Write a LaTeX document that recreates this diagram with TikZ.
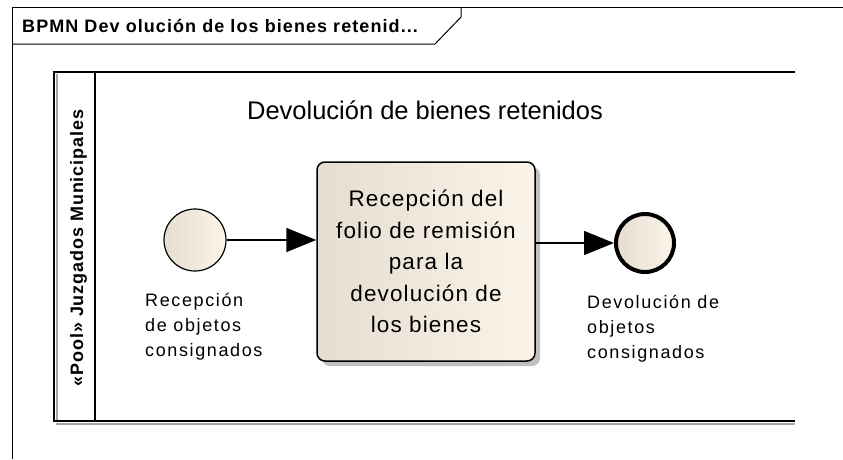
\documentclass[tikz,border=0pt]{standalone}
\usepackage{fontspec}
\setmainfont{Liberation Sans}
\newfontfamily\titlefont[LetterSpace=6]{Liberation Sans}
\newfontfamily\poolfont[LetterSpace=5]{Liberation Sans}
\newfontfamily\taskfont[LetterSpace=5]{Liberation Sans}
\newfontfamily\lblfont[LetterSpace=9]{Liberation Sans}
\usetikzlibrary{positioning,arrows.meta,shadows}

\definecolor{evdark}{RGB}{230,221,209}
\definecolor{evlight}{RGB}{251,244,232}
\definecolor{shadowgray}{RGB}{165,165,165}

\tikzset{
	frameline/.style={line width=1pt},
	poolline/.style={line width=2pt},
	event/.style={circle, draw, inner sep=0pt, left color=evdark, right color=evlight},
	startev/.style={event, line width=1.2pt, minimum size=62pt},
	endev/.style={event, line width=4pt, minimum size=58pt},
	task/.style={rectangle, draw, rounded corners=8pt, line width=1.5pt,
		minimum width=218pt, minimum height=199pt,
		left color=evdark, right color=evlight,
		drop shadow={shadow xshift=5pt, shadow yshift=-5pt, fill=shadowgray, opacity=0.7},
		align=center, font=\taskfont\fontsize{22.5}{31.5}\selectfont},
	flow/.style={-{Triangle[length=30pt,width=24pt]}, line width=1.5pt},
	evlabel/.style={anchor=base west, align=left, inner sep=0pt,
		font=\lblfont\fontsize{18}{25}\selectfont}
}

\begin{document}
\begin{tikzpicture}[x=1pt,y=-1pt]
	\useasboundingbox (0,0) rectangle (843,459);

	% diagram frame and its name tab
	\draw[frameline] (843,7) -- (12,7) -- (12,459);
	\draw[frameline] (12,44) -- (435,44) -- (461,17) -- (461,7);
	\node[anchor=base west, inner sep=0pt,
		  font=\titlefont\bfseries\fontsize{18}{20}\selectfont] 
		  (diagtitle) at (22,32) {BPMN Dev olución de los bienes retenid...};

	% pool
	\draw[shadowgray, line width=1.5pt] (56,424) -- (795,424);
	\draw[shadowgray, line width=1.5pt] (57,74) -- (57,421);
	\draw[poolline] (795,72) -- (54,72) -- (54,421) -- (795,421);
	\draw[poolline] (95,72) -- (95,421);
	\node[rotate=90, anchor=base, inner sep=0pt,
		  font=\poolfont\bfseries\fontsize{18}{20}\selectfont] 
		  (poollbl) at (83,248) {«Pool» Juzgados Municipales};
	\node[anchor=base, inner sep=0pt, font=\fontsize{25.5}{30}\selectfont] 
		  (lanetitle) at (425,119) {Devolución de bienes retenidos};

	% events and task
	\node[startev] (start) at (195,240) {};
	\node[task] (recep) at (426,261.5) 
		  {Recepción del\\folio de remisión\\para la\\devolución de\\los bienes};
	\node[endev] (finish) at (645,243) {};

	\node[evlabel] (startlbl) at (145,356) {Recepción\\de objetos\\consignados};
	\node[evlabel] (finishlbl) at (587,358) {Devolución de\\objetos\\consignados};

	\draw[flow] (start) -- (start -| recep.west);
	\draw[flow] (recep.east |- finish) -- (finish);
\end{tikzpicture}
\end{document}
